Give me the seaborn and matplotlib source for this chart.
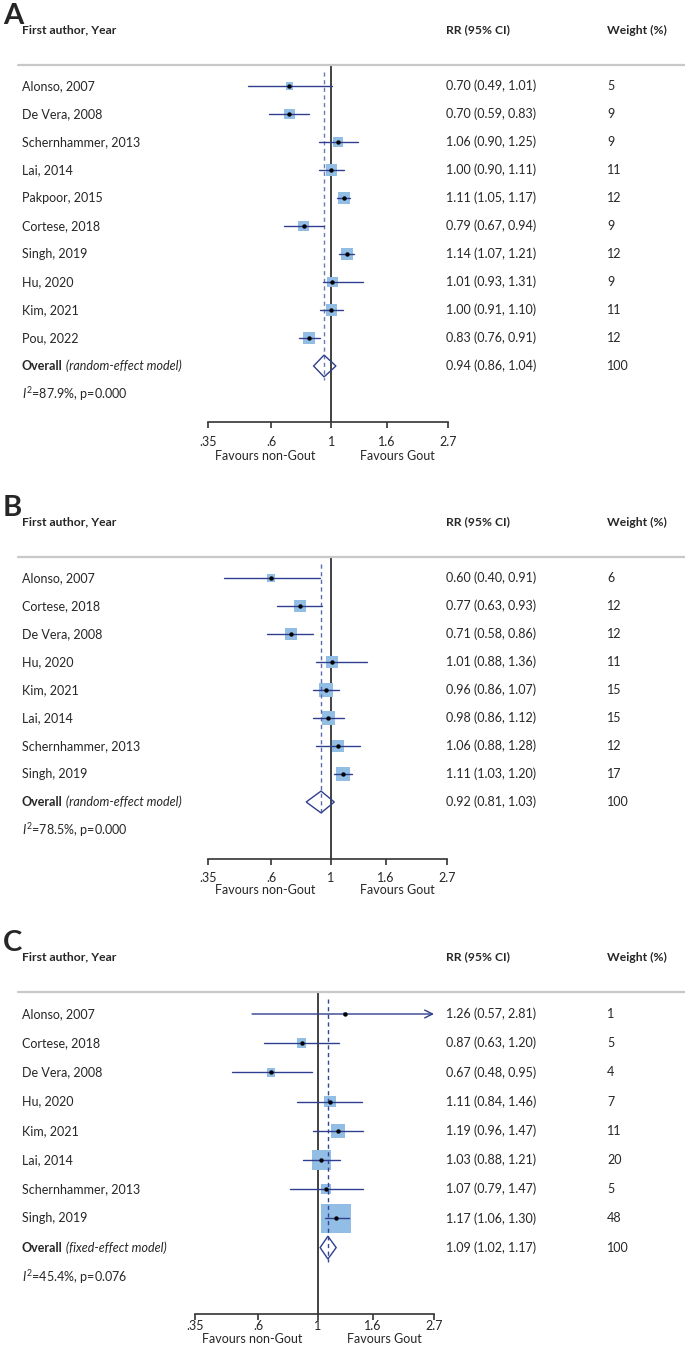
import numpy as np
import pandas as pd
import matplotlib.pyplot as plt
import matplotlib.transforms as mtransforms
import seaborn as sns

# Panel A data
names_a = ['Alonso, 2007', 'De Vera, 2008', 'Schernhammer, 2013', 'Lai, 2014', 'Pakpoor, 2015',
           'Cortese, 2018', 'Singh, 2019', 'Hu, 2020', 'Kim, 2021', 'Pou, 2022']
rr_a = [0.70, 0.70, 1.06, 1.00, 1.11, 0.79, 1.14, 1.01, 1.00, 0.83]
lo_a = [0.49, 0.59, 0.90, 0.90, 1.05, 0.67, 1.07, 0.93, 0.91, 0.76]
hi_a = [1.01, 0.83, 1.25, 1.11, 1.17, 0.94, 1.21, 1.31, 1.10, 0.91]
w_a = [5, 9, 9, 11, 12, 9, 12, 9, 11, 12]
overall_a = (0.94, 0.86, 1.04)
het_a = ('87.9%', '0.000')
model_a = 'random-effect model'

# Panel B data
names_b = ['Alonso, 2007', 'Cortese, 2018', 'De Vera, 2008', 'Hu, 2020', 'Kim, 2021',
           'Lai, 2014', 'Schernhammer, 2013', 'Singh, 2019']
rr_b = [0.60, 0.77, 0.71, 1.01, 0.96, 0.98, 1.06, 1.11]
lo_b = [0.40, 0.63, 0.58, 0.88, 0.86, 0.86, 0.88, 1.03]
hi_b = [0.91, 0.93, 0.86, 1.36, 1.07, 1.12, 1.28, 1.20]
w_b = [6, 12, 12, 11, 15, 15, 12, 17]
overall_b = (0.92, 0.81, 1.03)
het_b = ('78.5%', '0.000')
model_b = 'random-effect model'

# Panel C data
names_c = names_b
rr_c = [1.26, 0.87, 0.67, 1.11, 1.19, 1.03, 1.07, 1.17]
lo_c = [0.57, 0.63, 0.48, 0.84, 0.96, 0.88, 0.79, 1.06]
hi_c = [2.81, 1.20, 0.95, 1.46, 1.47, 1.21, 1.47, 1.30]
w_c = [1, 5, 4, 7, 11, 20, 5, 48]
overall_c = (1.09, 1.02, 1.17)
het_c = ('45.4%', '0.076')
model_c = 'fixed-effect model'

xticks = [0.35, 0.6, 1, 1.6, 2.7]
xticklabels = ['.35', '.6', '1', '1.6', '2.7']
favours = ['Favours non-Gout', 'Favours Gout']

sns.set_style('white')
plt.rcParams['font.family'] = ['Lato', 'DejaVu Sans']
plt.rcParams['mathtext.fontset'] = 'custom'
plt.rcParams['mathtext.it'] = 'Lato:italic'
plt.rcParams['mathtext.rm'] = 'Lato'

W, H = 685, 1345
fig = plt.figure(figsize=(W / 100, H / 100), dpi=100)

SQ = '#92BEE6'
NAVY = '#2F3F8F'
FS = 9

# pixel layout of each panel
panels = [
    dict(letter='A', names=names_a, rr=rr_a, lo=lo_a, hi=hi_a, w=w_a, ov=overall_a, het=het_a,
         model=model_a, x0=208, x1=448, top=65, base=422, row0=86, sp=28, k=3.45,
         lab_pad=6, fav_off=34, dash='#6C7AB4'),
    dict(letter='B', names=names_b, rr=rr_b, lo=lo_b, hi=hi_b, w=w_b, ov=overall_b, het=het_b,
         model=model_b, x0=208, x1=447, top=557, base=859, row0=578, sp=28, k=3.45,
         lab_pad=5, fav_off=31, dash='#5D6BAA'),
    dict(letter='C', names=names_c, rr=rr_c, lo=lo_c, hi=hi_c, w=w_c, ov=overall_c, het=het_c,
         model=model_c, x0=195, x1=434, top=992, base=1314, row0=1014, sp=29.2, k=4.3,
         lab_pad=0.5, fav_off=25, dash='#34449A'),
]

for p in panels:
    ax = fig.add_axes([p['x0'] / W, 1 - p['base'] / H,
                       (p['x1'] - p['x0']) / W, (p['base'] - p['top']) / H])
    n = len(p['names'])
    df = pd.DataFrame({'name': p['names'], 'rr': p['rr'], 'lo': p['lo'],
                       'hi': p['hi'], 'w': p['w'], 'row': np.arange(n)})
    ax.set_xscale('log')
    xmin, xmax = xticks[0], xticks[-1]

    # weight boxes, area proportional to weight
    wmax = max(p['w'])
    area = (0.72 * p['k']) ** 2
    sns.scatterplot(data=df, x='rr', y='row', size='w', sizes=(0, area * wmax),
                    size_norm=(0, wmax), marker='s', color=SQ, linewidth=0,
                    legend=False, ax=ax, zorder=2)
    # confidence intervals
    for _, r in df.iterrows():
        if r['hi'] > xmax:
            ax.annotate('', xy=(xmax, r['row']), xytext=(r['lo'], r['row']),
                        arrowprops=dict(arrowstyle='->', color=NAVY, lw=1,
                                        shrinkA=0, shrinkB=0, mutation_scale=14),
                        zorder=3)
        else:
            ax.plot([r['lo'], r['hi']], [r['row'], r['row']], color=NAVY, lw=1, zorder=3)
    sns.scatterplot(data=df, x='rr', y='row', color='black', s=10, linewidth=0,
                    legend=False, ax=ax, zorder=4)

    # overall diamond and lines
    est, olo, ohi = p['ov']
    orow = n
    ax.fill([olo, est, ohi, est], [orow, orow - 0.39, orow, orow + 0.39],
            facecolor='none', edgecolor=NAVY, lw=1, zorder=3)
    ax.axvline(1, color='#333333', lw=1.3, zorder=1)
    ax.plot([est, est], [-0.5, orow + 0.5], color=p['dash'], lw=1,
            ls=(0, (3, 2.5)), zorder=2)

    ax.set_xlim(xmin, xmax)
    ax.set_ylim((p['base'] - p['row0']) / p['sp'], (p['top'] - p['row0']) / p['sp'])
    ax.set_xticks(xticks)
    ax.set_xticklabels(xticklabels)
    ax.minorticks_off()
    ax.set_yticks([])
    ax.set_xlabel('')
    ax.set_ylabel('')
    for s in ['top', 'left', 'right']:
        ax.spines[s].set_visible(False)
    ax.spines['bottom'].set_color('#333333')
    ax.spines['bottom'].set_linewidth(1.2)
    ax.tick_params(axis='x', direction='out', length=4, width=1.2, color='#333333',
                   labelsize=FS, pad=p['lab_pad'], bottom=True)
    for fx, lab in zip([0.57, 1.76], favours):
        ax.annotate(lab, xy=(fx, 0), xycoords=('data', 'axes fraction'),
                    xytext=(0, -p['fav_off'] * 0.72), textcoords='offset points',
                    ha='center', va='center', fontsize=FS)

    # text columns
    blend = mtransforms.blended_transform_factory(fig.transFigure, ax.transData)
    ytop = (p['top'] - p['row0']) / p['sp']
    ax.plot([18 / W, 1], [ytop, ytop], transform=blend, color='#C8C8C8', lw=1.6,
            clip_on=False)
    for _, r in df.iterrows():
        ax.text(22 / W, r['row'], r['name'], transform=blend, va='center', fontsize=FS)
        ax.text(446 / W, r['row'], f"{r['rr']:.2f} ({r['lo']:.2f}, {r['hi']:.2f})",
                transform=blend, va='center', fontsize=FS)
        ax.text(607 / W, r['row'], f"{r['w']}", transform=blend, va='center', fontsize=FS)
    t = ax.text(22 / W, orow, 'Overall', transform=blend, va='center', fontsize=FS,
                fontweight='bold')
    ax.annotate(f" ({p['model']})", xy=(1, 0), xycoords=t, va='bottom', ha='left',
                fontsize=FS, fontstyle='italic')
    ax.text(446 / W, orow, f"{est:.2f} ({olo:.2f}, {ohi:.2f})", transform=blend,
            va='center', fontsize=FS)
    ax.text(607 / W, orow, '100', transform=blend, va='center', fontsize=FS)
    ax.text(22 / W, orow + 1, r'$\mathit{I}^{2}$' + f"={p['het'][0]}, p={p['het'][1]}",
            transform=blend, va='center', fontsize=FS)

    # header and panel letter
    hy = p['top'] - 35
    fig.text(22 / W, 1 - hy / H, 'First author, Year', va='center', fontsize=FS - 0.3,
             fontweight='bold')
    fig.text(446 / W, 1 - hy / H, 'RR (95% CI)', va='center', fontsize=FS - 0.3,
             fontweight='bold')
    fig.text(607 / W, 1 - hy / H, 'Weight (%)', va='center', fontsize=FS - 0.3,
             fontweight='bold')
    fig.text(3 / W, 1 - (p['top'] - 62) / H, p['letter'], va='top', ha='left',
             fontsize=21, fontweight='bold')

fig.savefig('out.png', dpi=100)
plt.close(fig)
